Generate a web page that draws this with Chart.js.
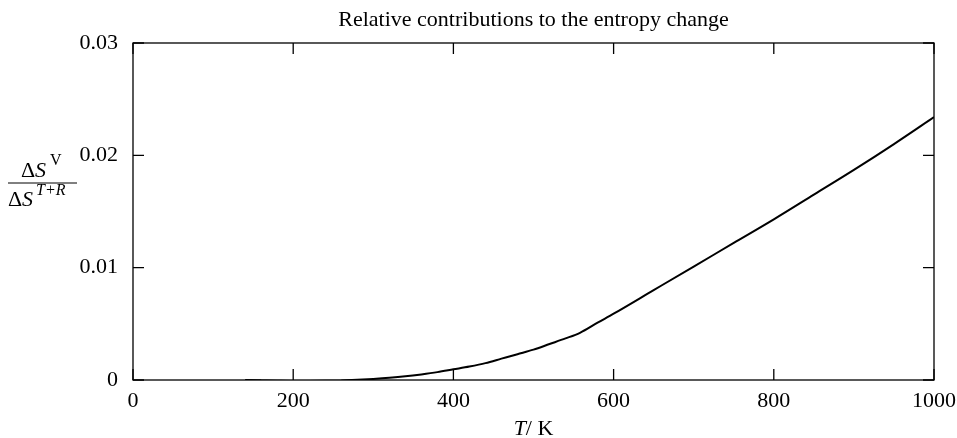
<!DOCTYPE html>
<html>
<head>
<meta charset="utf-8">
<script src="https://cdn.jsdelivr.net/npm/chart.js@4"></script>
<style>
  html, body { margin: 0; padding: 0; background: #fff; }
  #wrap { width: 957px; height: 438px; }
</style>
</head>
<body>
<div id="wrap"><canvas id="myChart" width="957" height="438"></canvas></div>
<script>
// temperature T / K
let temps = [140, 160, 180, 200, 220, 240, 260, 280, 300, 320, 340, 360, 380, 400,
  420, 440, 460, 480, 500, 520, 540, 558, 580, 600, 650, 700, 750, 800, 850, 900, 950, 1000];
// dS(V) / dS(T+R)
let ratio = [0.0000, -0.00003, -0.00006, -0.00008, -0.00008, -0.00007, -0.00004, 0.00002,
  0.0001, 0.0002, 0.00033, 0.0005, 0.0007, 0.00095, 0.0012, 0.0015, 0.0019, 0.0023,
  0.0027, 0.0032, 0.0037, 0.0042, 0.0051, 0.0059, 0.0080, 0.0101, 0.0122, 0.0143,
  0.0165, 0.0187, 0.0210, 0.0234];
let xTicks = [0, 200, 400, 600, 800, 1000];
let yTicks = [0, 0.01, 0.02, 0.03];
let titleText = "Relative contributions to the entropy change";

const FONT = "'Liberation Serif', 'Times New Roman', serif";
const FS = 22;

// cadre + ticks vers l'interieur sur les 4 cotes, titre, labels
const frame = {
  id: "frame",
  afterDraw(chart) {
    const ctx = chart.ctx;
    const a = chart.chartArea;
    const xs = chart.scales.x, ys = chart.scales.y;
    const tl = 11;
    ctx.save();
    ctx.strokeStyle = "#000";
    ctx.lineWidth = 1.3;
    ctx.strokeRect(a.left, a.top, a.right - a.left, a.bottom - a.top);
    ctx.beginPath();
    for (const v of xTicks) {
      const px = xs.getPixelForValue(v);
      ctx.moveTo(px, a.bottom); ctx.lineTo(px, a.bottom - tl);
      ctx.moveTo(px, a.top); ctx.lineTo(px, a.top + tl);
    }
    for (const v of yTicks) {
      const py = ys.getPixelForValue(v);
      ctx.moveTo(a.left, py); ctx.lineTo(a.left + tl, py);
      ctx.moveTo(a.right, py); ctx.lineTo(a.right - tl, py);
    }
    ctx.stroke();

    ctx.fillStyle = "#000";
    ctx.textBaseline = "alphabetic";
    // titre
    ctx.font = FS + "px " + FONT;
    ctx.textAlign = "center";
    ctx.fillText(titleText, (a.left + a.right) / 2, 26);

    // label x : T / K
    const cx = (a.left + a.right) / 2;
    ctx.textAlign = "left";
    ctx.font = "italic " + FS + "px " + FONT;
    const wT = ctx.measureText("T").width;
    ctx.font = FS + "px " + FONT;
    const wR = ctx.measureText("/ K").width;
    let x0 = cx - (wT + wR) / 2;
    ctx.font = "italic " + FS + "px " + FONT;
    ctx.fillText("T", x0, 435);
    ctx.font = FS + "px " + FONT;
    ctx.fillText("/ K", x0 + wT, 435);

    // label y : fraction
    const lineY = 183;
    ctx.font = FS + "px " + FONT;
    ctx.fillText("\u0394", 21, 177);
    ctx.font = "italic " + FS + "px " + FONT;
    ctx.fillText("S", 35, 177);
    ctx.font = "16px " + FONT;
    ctx.fillText("V", 50, 165);
    ctx.beginPath();
    ctx.lineWidth = 1;
    ctx.moveTo(8, lineY); ctx.lineTo(77, lineY);
    ctx.stroke();
    ctx.font = FS + "px " + FONT;
    ctx.fillText("\u0394", 8, 206);
    ctx.font = "italic " + FS + "px " + FONT;
    ctx.fillText("S", 22, 206);
    ctx.font = "italic 16px " + FONT;
    ctx.fillText("T+R", 36, 195);
    ctx.restore();
  }
};

let myChart = new Chart("myChart", {
  type: "line",
  data: {
    datasets: [{
      data: temps.map((t, i) => ({ x: t, y: ratio[i] })),
      borderColor: "#000",
      borderWidth: 2,
      pointRadius: 0,
      fill: false,
      cubicInterpolationMode: "monotone",
    }],
  },
  options: {
    responsive: false,
    animation: false,
    events: [],
    layout: { padding: { left: 0, right: 23, top: 43, bottom: 0 } },
    plugins: { legend: { display: false }, title: { display: false }, tooltip: { enabled: false } },
    scales: {
      x: {
        type: "linear",
        min: 0, max: 1000,
        afterFit: (s) => { s.height = 58; s.paddingRight = 0; s.paddingLeft = 0; },
        afterBuildTicks: (s) => { s.ticks = xTicks.map((v) => ({ value: v })); },
        grid: { display: false, drawTicks: false },
        border: { display: false },
        ticks: {
          color: "#000", padding: 8, maxRotation: 0, font: { family: FONT, size: FS },
          callback: (v) => String(v),
        },
      },
      y: {
        type: "linear",
        min: 0, max: 0.03,
        afterFit: (s) => { s.width = 133; },
        afterBuildTicks: (s) => { s.ticks = yTicks.map((v) => ({ value: v })); },
        grid: { display: false, drawTicks: false },
        border: { display: false },
        ticks: {
          color: "#000", padding: 15, font: { family: FONT, size: FS },
          callback: (v) => (v === 0 ? "0" : Number(v).toFixed(2)),
        },
      },
    },
  },
  plugins: [frame],
});
</script>
</body>
</html>
